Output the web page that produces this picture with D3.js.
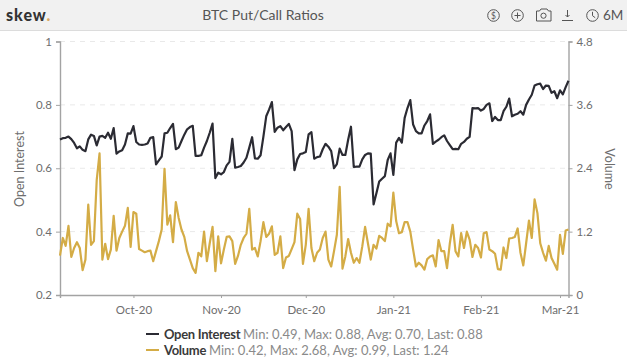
<!DOCTYPE html>
<html><head><meta charset="utf-8">
<script src="https://d3js.org/d3.v7.min.js"></script>
<style>
html,body{margin:0;padding:0;background:#fff;overflow:hidden}
svg{display:block}
text{font-family:Lato,"Open Sans",sans-serif}
</style></head><body>
<svg id="c" width="627" height="364"></svg>
<script>
const firstDay = "2020-09-05";
const openInterest = [.691,.695,.696,.70,.692,.68,.663,.669,.658,.654,.691,.706,.702,.672,.70,.702,.696,.712,.693,.727,.646,.653,.657,.675,.71,.709,.733,.683,.675,.674,.675,.678,.696,.698,.612,.625,.637,.71,.712,.727,.74,.66,.665,.686,.706,.723,.73,.734,.639,.639,.641,.665,.686,.712,.741,.569,.586,.581,.588,.609,.62,.693,.602,.604,.607,.618,.633,.665,.698,.631,.63,.641,.70,.764,.785,.809,.715,.728,.733,.72,.73,.74,.717,.594,.628,.645,.647,.651,.707,.714,.63,.635,.637,.66,.677,.668,.654,.60,.613,.662,.642,.642,.69,.731,.604,.605,.605,.628,.642,.647,.646,.486,.521,.558,.567,.575,.626,.647,.579,.681,.696,.681,.759,.79,.815,.738,.717,.71,.71,.735,.749,.77,.677,.684,.69,.698,.704,.686,.673,.66,.661,.66,.677,.683,.693,.699,.79,.789,.79,.782,.787,.80,.805,.749,.762,.752,.752,.78,.794,.82,.764,.769,.772,.78,.769,.80,.817,.832,.861,.865,.867,.85,.861,.86,.838,.843,.821,.846,.833,.856,.876];
const volume = [.745,1.08,.93,1.31,.72,.89,1.0,.89,.47,.67,1.71,.95,1.02,2.18,2.68,.67,.97,.68,.86,1.5,.84,1.08,1.2,1.31,1.65,.91,1.57,1.54,.87,.84,.81,.83,.84,.64,.83,1.02,1.24,2.39,1.33,1.51,1.0,1.76,1.46,1.24,1.1,.83,.67,.51,.42,.8,.73,1.2,.64,.98,1.29,.45,1.11,.6,.86,1.1,1.11,1.02,.59,.74,.95,1.08,1.16,1.63,.86,.89,.73,1.02,1.38,1.1,1.16,1.3,.76,.8,1.11,.51,.71,.74,.87,1.0,1.54,1.44,.59,.95,1.63,.89,.64,.8,.86,1.08,1.2,.67,.54,.83,1.14,2.05,.5,.73,1.06,.8,.61,.7,.61,.92,1.29,.98,.67,.95,.88,1.12,1.08,1.02,1.35,1.3,1.94,1.4,1.17,1.19,1.38,1.38,1.2,.86,.54,.61,.56,.48,.68,.73,.75,.54,1.04,.83,.83,.51,.98,1.33,.83,.73,1.17,.89,1.2,1.05,.72,.95,.89,.71,1.17,1.19,.86,.83,.78,.49,.48,.9,.7,1.07,1.08,1.1,1.26,.8,.56,.98,1.41,1.08,1.81,1.55,.98,.8,.65,.93,.7,.59,.48,1.14,.78,1.22,1.24];
const leftTicks = [0.2,0.4,0.6,0.8,1];
const rightTicks = [0,1.2,2.4,3.6,4.8];
const monthTicks = ["2020-10-01","2020-11-01","2020-12-01","2021-01-01","2021-02-01","2021-03-01"];
const legendRows = [
  {name:"Open Interest", stats:"Min: 0.49, Max: 0.88, Avg: 0.70, Last: 0.88", color:"#2b2b33"},
  {name:"Volume", stats:"Min: 0.42, Max: 2.68, Avg: 0.99, Last: 1.24", color:"#d4ac46"}
];

const svg = d3.select("#c");
const L=60,R=568.5,T=41.5,B=295;
const parse = d3.utcParse("%Y-%m-%d");
const start = parse(firstDay);
const dates = openInterest.map((_,i)=>d3.utcDay.offset(start,i));
const x = d3.scaleUtc().domain([dates[0],dates[dates.length-1]]).range([L,R]);
const yL = d3.scaleLinear().domain([0.2,1]).range([B,T]);
const yR = d3.scaleLinear().domain([0,4.8]).range([B,T]);
const grey="#6e6e6e", axisC="#a3a3a3";

// header
svg.append("rect").attr("width",627).attr("height",30).attr("fill","#f1f1f1");
svg.append("rect").attr("y",30).attr("width",627).attr("height",1).attr("fill","#dcdcdc");
const logo = svg.append("text").attr("x",6).attr("y",21).attr("font-size",16).attr("font-weight",900).attr("fill","#333").attr("letter-spacing",1);
logo.append("tspan").text("skew");
logo.append("tspan").attr("fill","#d9a860").text(".");
svg.append("text").attr("x",263).attr("y",20).attr("text-anchor","middle").attr("font-size",14).attr("fill","#555").text("BTC Put/Call Ratios");

// toolbar icons
const ic = svg.append("g").attr("fill","none").attr("stroke","#555").attr("stroke-width",1);
ic.append("circle").attr("cx",493.5).attr("cy",15.5).attr("r",5.8);
svg.append("text").attr("x",493.5).attr("y",18.5).attr("text-anchor","middle").attr("font-size",8.5).attr("fill","#555").text("$");
ic.append("circle").attr("cx",517.5).attr("cy",15.5).attr("r",5.8);
ic.append("path").attr("d","M514.5 15.5h6M517.5 12.5v6");
ic.append("path").attr("d","M536.5 11h3l1.5-2h6l1.5 2h2.5v10h-14.5z");
ic.append("circle").attr("cx",543.5).attr("cy",15.7).attr("r",2.6);
ic.append("path").attr("d","M567.5 10v7M565.5 15l2 2 2-2M562 20.5h11");
ic.append("circle").attr("cx",592.5).attr("cy",15.5).attr("r",5.8);
ic.append("path").attr("d","M592.5 11.8v3.9l2.7 2");
svg.append("text").attr("x",603).attr("y",20).attr("font-size",13.5).attr("fill","#555").text("6M");

// grid
const grid = svg.append("g").attr("stroke","#e9e9e9").attr("stroke-dasharray","5,5");
grid.selectAll("line").data(leftTicks.slice(1)).join("line")
  .attr("x1",L).attr("x2",R).attr("y1",d=>yL(d)).attr("y2",d=>yL(d));

// axes
function style(g){
  g.selectAll(".domain").attr("stroke",axisC).attr("stroke-width",1.4);
  g.selectAll(".tick line").attr("stroke",axisC);
  g.selectAll(".tick text").attr("fill",grey).attr("font-size",11.5).style("font-family","Lato,sans-serif");
}
svg.append("g").attr("transform",`translate(${L},0)`)
  .call(d3.axisLeft(yL).tickValues(leftTicks).tickFormat(d3.format("~g")).tickSize(4).tickPadding(4)).call(style);
svg.append("g").attr("transform",`translate(${R},0)`)
  .call(d3.axisRight(yR).tickValues(rightTicks).tickFormat(d3.format("~g")).tickSize(4).tickPadding(4)).call(style);
svg.append("g").attr("transform",`translate(0,${B})`)
  .call(d3.axisBottom(x).tickValues(monthTicks.map(parse)).tickFormat(d3.utcFormat("%b-%y")).tickSize(3).tickPadding(8)).call(style);

// axis titles
svg.append("text").attr("transform","translate(24,169) rotate(-90)").attr("text-anchor","middle").attr("font-size",12.5).attr("fill",grey).text("Open Interest");
svg.append("text").attr("transform","translate(604.5,169) rotate(90)").attr("text-anchor","middle").attr("font-size",12.5).attr("fill",grey).text("Volume");

// lines
const lineV = d3.line().x((d,i)=>x(dates[i])).y(d=>yR(d));
const lineO = d3.line().x((d,i)=>x(dates[i])).y(d=>yL(d));
svg.append("path").datum(volume).attr("d",lineV).attr("fill","none").attr("stroke",legendRows[1].color).attr("stroke-width",2.2).attr("stroke-linejoin","round");
svg.append("path").datum(openInterest).attr("d",lineO).attr("fill","none").attr("stroke",legendRows[0].color).attr("stroke-width",2.2).attr("stroke-linejoin","round");

// legend
const leg = svg.append("g").selectAll("g").data(legendRows).join("g").attr("transform",(d,i)=>`translate(0,${334+i*16})`);
leg.append("line").attr("x1",146).attr("x2",159).attr("stroke",d=>d.color).attr("stroke-width",2);
const t = leg.append("text").attr("x",164).attr("y",4.5).attr("font-size",13);
t.append("tspan").attr("fill","#3a3a3a").attr("font-weight",700).attr("letter-spacing",-0.3).text(d=>d.name+" ");
t.append("tspan").attr("fill","#8a8a8a").text(d=>d.stats);
</script>
</body></html>
